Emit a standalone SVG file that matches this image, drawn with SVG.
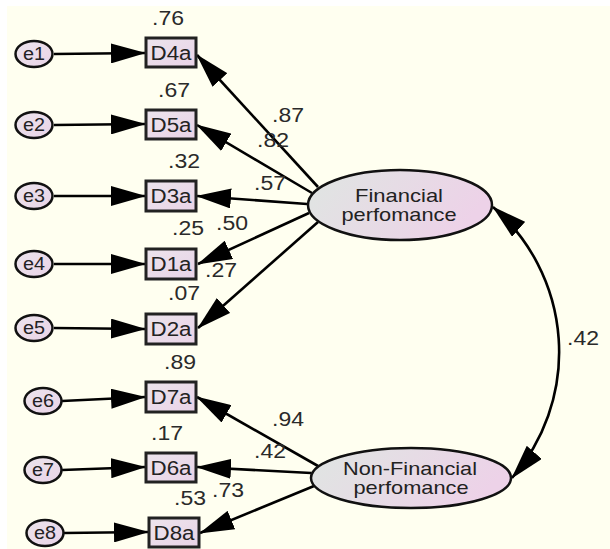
<svg xmlns="http://www.w3.org/2000/svg" width="610" height="549" viewBox="0 0 610 549">
<defs>
<linearGradient id="gBig" x1="0" y1="0" x2="1" y2="0.3">
<stop offset="0" stop-color="#dfe6e2"/>
<stop offset="1" stop-color="#edd2e8"/>
</linearGradient>
<linearGradient id="gSmall" x1="0" y1="0" x2="1" y2="1">
<stop offset="0" stop-color="#ece4ec"/>
<stop offset="1" stop-color="#e9d3e7"/>
</linearGradient>
<marker id="ah" viewBox="0 0 35 20" refX="34" refY="10" markerWidth="35" markerHeight="20" markerUnits="userSpaceOnUse" orient="auto-start-reverse">
<path d="M0,0 L35,10 L0,20 z" fill="#000"/>
</marker>
<style>
.box{fill:url(#gSmall);stroke:#222;stroke-width:3}
.err{fill:url(#gSmall);stroke:#111;stroke-width:2.5}
.lat{fill:url(#gBig);stroke:#111;stroke-width:2.5}
.c{fill:none;stroke:#000;stroke-width:2.6;marker-end:url(#ah)}
.t{font-family:"Liberation Sans",Arial,sans-serif;fill:#222;text-anchor:middle}
.nt{font-size:20px}
.et{font-size:18px}
.lt{font-size:19px}
.lb{font-family:"Liberation Sans",Arial,sans-serif;font-size:20px;fill:#2a2a2a;text-anchor:middle}
</style>
</defs>
<rect x="0" y="0" width="610" height="549" fill="#ffffff"/>
<rect x="7" y="6" width="603" height="543" fill="#fffff0"/>

<g id="connectors">
<line class="c" x1="54" y1="54" x2="145" y2="53"/>
<line class="c" x1="54" y1="125" x2="145" y2="124"/>
<line class="c" x1="54" y1="196" x2="145" y2="196"/>
<line class="c" x1="54" y1="264" x2="145" y2="264"/>
<line class="c" x1="54" y1="328" x2="145" y2="329"/>
<line class="c" x1="62" y1="401" x2="145" y2="397"/>
<line class="c" x1="62" y1="470" x2="145" y2="467"/>
<line class="c" x1="64" y1="533" x2="148" y2="532"/>
<line class="c" x1="318" y1="187" x2="197" y2="55"/>
<line class="c" x1="312" y1="193" x2="197" y2="125"/>
<line class="c" x1="307" y1="204" x2="197" y2="196"/>
<line class="c" x1="309" y1="213" x2="198" y2="264"/>
<line class="c" x1="318" y1="222" x2="198" y2="328"/>
<line class="c" x1="318" y1="466" x2="197" y2="397"/>
<line class="c" x1="311" y1="473" x2="197" y2="467"/>
<line class="c" x1="314" y1="486" x2="200" y2="533"/>
<path class="c" style="marker-start:url(#ah)" d="M493,207 A192,192 0 0 1 512,478"/>
</g>

<g id="e1"><ellipse class="err" cx="34" cy="54" rx="18.5" ry="13"/><text class="t et" x="34" y="60" textLength="22" lengthAdjust="spacingAndGlyphs">e1</text></g>
<g id="e2"><ellipse class="err" cx="34" cy="125" rx="18.5" ry="13"/><text class="t et" x="34" y="131" textLength="22" lengthAdjust="spacingAndGlyphs">e2</text></g>
<g id="e3"><ellipse class="err" cx="34" cy="196" rx="18.5" ry="13"/><text class="t et" x="34" y="202" textLength="22" lengthAdjust="spacingAndGlyphs">e3</text></g>
<g id="e4"><ellipse class="err" cx="34" cy="264" rx="18.5" ry="13"/><text class="t et" x="34" y="270" textLength="22" lengthAdjust="spacingAndGlyphs">e4</text></g>
<g id="e5"><ellipse class="err" cx="34" cy="328" rx="18.5" ry="13"/><text class="t et" x="34" y="334" textLength="22" lengthAdjust="spacingAndGlyphs">e5</text></g>
<g id="e6"><ellipse class="err" cx="43" cy="401" rx="18.5" ry="13"/><text class="t et" x="43" y="407" textLength="22" lengthAdjust="spacingAndGlyphs">e6</text></g>
<g id="e7"><ellipse class="err" cx="43" cy="470" rx="18.5" ry="13"/><text class="t et" x="43" y="476" textLength="22" lengthAdjust="spacingAndGlyphs">e7</text></g>
<g id="e8"><ellipse class="err" cx="45" cy="533" rx="18.5" ry="13"/><text class="t et" x="45" y="539" textLength="22" lengthAdjust="spacingAndGlyphs">e8</text></g>

<g id="D4a"><rect class="box" x="146" y="38" width="50" height="29"/><text class="t nt" x="171" y="59.5" textLength="41" lengthAdjust="spacingAndGlyphs">D4a</text></g>
<g id="D5a"><rect class="box" x="146" y="110" width="50" height="29"/><text class="t nt" x="171" y="131.5" textLength="41" lengthAdjust="spacingAndGlyphs">D5a</text></g>
<g id="D3a"><rect class="box" x="146" y="181" width="50" height="30"/><text class="t nt" x="171" y="203" textLength="41" lengthAdjust="spacingAndGlyphs">D3a</text></g>
<g id="D1a"><rect class="box" x="146" y="249" width="50" height="30"/><text class="t nt" x="171" y="271" textLength="41" lengthAdjust="spacingAndGlyphs">D1a</text></g>
<g id="D2a"><rect class="box" x="146" y="314" width="50" height="30"/><text class="t nt" x="171" y="336" textLength="41" lengthAdjust="spacingAndGlyphs">D2a</text></g>
<g id="D7a"><rect class="box" x="146" y="382" width="50" height="30"/><text class="t nt" x="171" y="404" textLength="41" lengthAdjust="spacingAndGlyphs">D7a</text></g>
<g id="D6a"><rect class="box" x="146" y="453" width="50" height="29"/><text class="t nt" x="171" y="474.5" textLength="41" lengthAdjust="spacingAndGlyphs">D6a</text></g>
<g id="D8a"><rect class="box" x="149" y="518" width="50" height="29"/><text class="t nt" x="174" y="539.5" textLength="41" lengthAdjust="spacingAndGlyphs">D8a</text></g>

<g id="financial"><ellipse class="lat" cx="400" cy="205" rx="92" ry="35"/><text class="t lt" x="399" y="202" textLength="88" lengthAdjust="spacingAndGlyphs">Financial</text><text class="t lt" x="399" y="221" textLength="115" lengthAdjust="spacingAndGlyphs">perfomance</text></g>
<g id="nonfinancial"><ellipse class="lat" cx="411" cy="478" rx="100" ry="30"/><text class="t lt" x="410" y="475" textLength="134" lengthAdjust="spacingAndGlyphs">Non-Financial</text><text class="t lt" x="411" y="494" textLength="115" lengthAdjust="spacingAndGlyphs">perfomance</text></g>

<g id="labels">
<text class="lb" x="168" y="25" textLength="32" lengthAdjust="spacingAndGlyphs">.76</text>
<text class="lb" x="174" y="97" textLength="32" lengthAdjust="spacingAndGlyphs">.67</text>
<text class="lb" x="184" y="168" textLength="32" lengthAdjust="spacingAndGlyphs">.32</text>
<text class="lb" x="188" y="235" textLength="32" lengthAdjust="spacingAndGlyphs">.25</text>
<text class="lb" x="184" y="300" textLength="32" lengthAdjust="spacingAndGlyphs">.07</text>
<text class="lb" x="180" y="369" textLength="32" lengthAdjust="spacingAndGlyphs">.89</text>
<text class="lb" x="167" y="440" textLength="32" lengthAdjust="spacingAndGlyphs">.17</text>
<text class="lb" x="190" y="505" textLength="32" lengthAdjust="spacingAndGlyphs">.53</text>
<text class="lb" x="288" y="122" textLength="32" lengthAdjust="spacingAndGlyphs">.87</text>
<text class="lb" x="273" y="147" textLength="32" lengthAdjust="spacingAndGlyphs">.82</text>
<text class="lb" x="270" y="190" textLength="32" lengthAdjust="spacingAndGlyphs">.57</text>
<text class="lb" x="232" y="230" textLength="32" lengthAdjust="spacingAndGlyphs">.50</text>
<text class="lb" x="221" y="277" textLength="32" lengthAdjust="spacingAndGlyphs">.27</text>
<text class="lb" x="288" y="426" textLength="32" lengthAdjust="spacingAndGlyphs">.94</text>
<text class="lb" x="270" y="458" textLength="32" lengthAdjust="spacingAndGlyphs">.42</text>
<text class="lb" x="228" y="497" textLength="32" lengthAdjust="spacingAndGlyphs">.73</text>
<text class="lb" x="583" y="345" textLength="32" lengthAdjust="spacingAndGlyphs">.42</text>
</g>
</svg>
